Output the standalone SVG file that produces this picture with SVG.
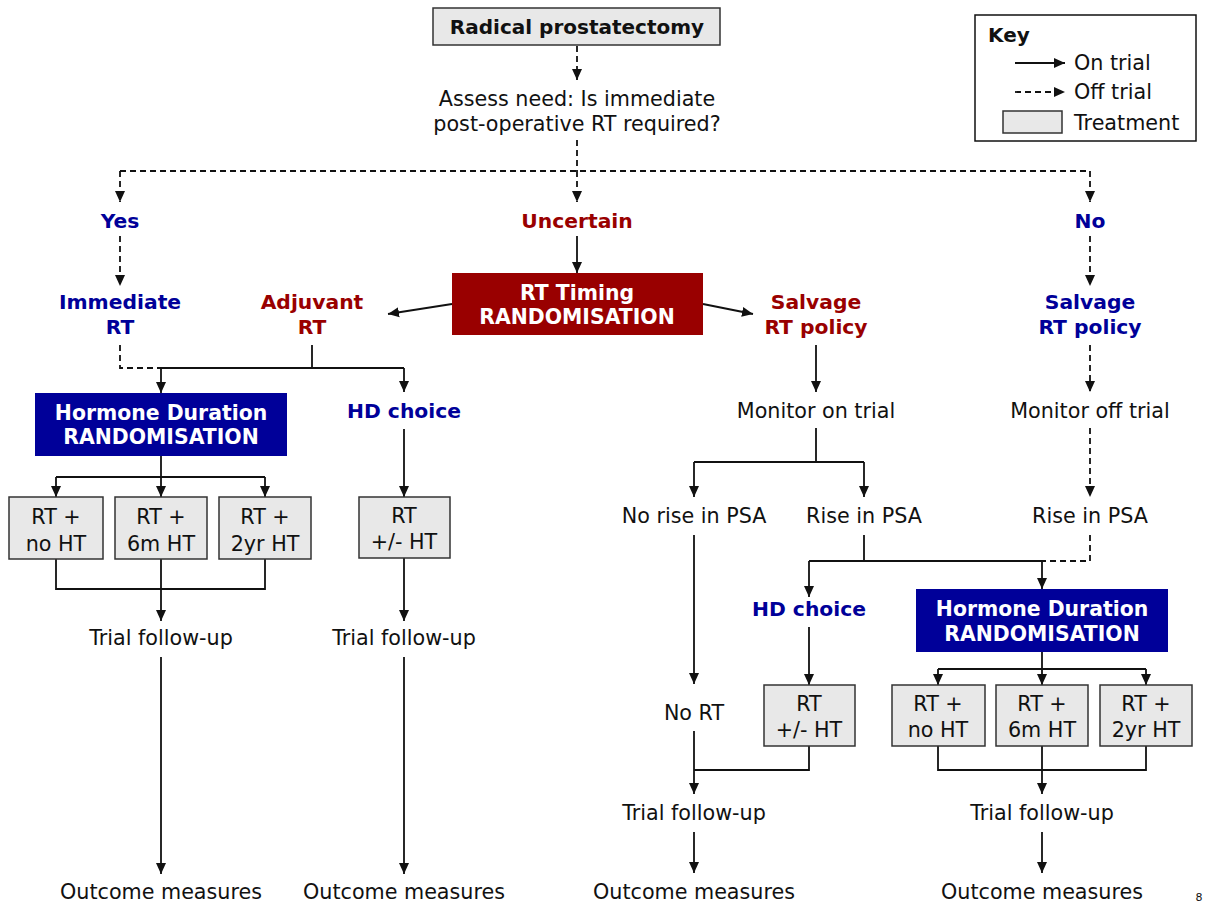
<svg xmlns="http://www.w3.org/2000/svg" width="1206" height="904" viewBox="0 0 1206 904">
<style>
text{font-family:"DejaVu Sans","Verdana",sans-serif;font-size:20.7px;fill:#111;text-anchor:middle;dominant-baseline:central}
.b{font-weight:bold;font-size:20px}
.blue{fill:#000099;font-weight:bold;font-size:20.3px}
.red{fill:#990000;font-weight:bold;font-size:20.3px}
.w{fill:#fff;font-weight:bold;font-size:20.4px}
.tr{fill:#e8e8e8;stroke:#333;stroke-width:1.5}
.rb{fill:#000099}
.rr{fill:#990000}
.c{fill:none;stroke:#111;stroke-width:1.8}
.d{fill:none;stroke:#111;stroke-width:1.8;stroke-dasharray:6,4}
.a{marker-end:url(#ah)}
</style>
<defs>
<marker id="ah" markerUnits="userSpaceOnUse" markerWidth="12" markerHeight="12" refX="11" refY="6" orient="auto">
<path d="M0,1 L11,6 L0,11 z" fill="#111"/>
</marker>
</defs>
<rect width="1206" height="904" fill="#fff"/>

<g id="connectors">
<path class="d a" d="M577,46 V80"/>
<path class="d" d="M577,140 V171 M120,171 H1090"/>
<path class="d a" d="M120,171 V202"/>
<path class="d a" d="M577,171 V202"/>
<path class="d a" d="M1090,171 V202"/>
<path class="d a" d="M120,236 V286"/>
<path class="c a" d="M577,236 V273"/>
<path class="d a" d="M1090,236 V286"/>
<path class="c a" d="M452,304 L388,314"/>
<path class="c a" d="M703,304 L753,314"/>
<path class="d" d="M120,345 V368 H161"/>
<path class="c" d="M312,345 V368 M161,368 H404"/>
<path class="c a" d="M161,368 V393"/>
<path class="c a" d="M404,368 V392"/>
<path class="c" d="M161,456 V477 M56,477 H265"/>
<path class="c a" d="M56,477 V497"/>
<path class="c a" d="M161,477 V497"/>
<path class="c a" d="M265,477 V497"/>
<path class="c a" d="M404,429 V497"/>
<path class="c" d="M56,559 V589 H265 V559 M161,559 V589"/>
<path class="c a" d="M161,589 V621"/>
<path class="c a" d="M404,558 V621"/>
<path class="c a" d="M161,657 V874"/>
<path class="c a" d="M404,657 V874"/>
<path class="c a" d="M816,345 V392"/>
<path class="d a" d="M1090,345 V392"/>
<path class="c" d="M816,428 V462 M694,462 H864"/>
<path class="c a" d="M694,462 V497"/>
<path class="c a" d="M864,462 V497"/>
<path class="d a" d="M1090,428 V497"/>
<path class="c" d="M864,535 V561 M809,561 H1042"/>
<path class="d" d="M1090,535 V561 H1042"/>
<path class="c a" d="M809,561 V597"/>
<path class="c a" d="M1042,561 V589"/>
<path class="c a" d="M809,627 V685"/>
<path class="c" d="M1042,652 V669 M938,669 H1146"/>
<path class="c a" d="M938,669 V685"/>
<path class="c a" d="M1042,669 V685"/>
<path class="c a" d="M1146,669 V685"/>
<path class="c a" d="M694,535 V684"/>
<path class="c a" d="M694,731 V794"/>
<path class="c" d="M809,746 V770 H694"/>
<path class="c" d="M938,746 V770 H1146 V746 M1042,746 V770"/>
<path class="c a" d="M1042,770 V794"/>
<path class="c a" d="M694,832 V873"/>
<path class="c a" d="M1042,832 V873"/>
</g>

<g id="n-prostatectomy"><rect class="tr" x="433" y="8" width="287" height="37"/><text class="b" x="577" y="27">Radical prostatectomy</text></g>
<g id="n-assess"><text x="577" y="99">Assess need: Is immediate</text><text x="577" y="124">post-operative RT required?</text></g>
<g id="n-yes"><text class="blue" x="120" y="221">Yes</text></g>
<g id="n-uncertain"><text class="red" x="577" y="221">Uncertain</text></g>
<g id="n-no"><text class="blue" x="1090" y="221">No</text></g>
<g id="n-immediate"><text class="blue" x="120" y="302">Immediate</text><text class="blue" x="120" y="327">RT</text></g>
<g id="n-rttiming"><rect class="rr" x="452" y="273" width="251" height="62"/><text class="w" x="577" y="293">RT Timing</text><text class="w" x="577" y="317">RANDOMISATION</text></g>
<g id="n-adjuvant"><text class="red" x="312" y="302">Adjuvant</text><text class="red" x="312" y="327">RT</text></g>
<g id="n-salvage-red"><text class="red" x="816" y="302">Salvage</text><text class="red" x="816" y="327">RT policy</text></g>
<g id="n-salvage-blue"><text class="blue" x="1090" y="302">Salvage</text><text class="blue" x="1090" y="327">RT policy</text></g>
<g id="n-hd-left"><rect class="rb" x="35" y="393" width="252" height="63"/><text class="w" x="161" y="413">Hormone Duration</text><text class="w" x="161" y="437">RANDOMISATION</text></g>
<g id="n-hdchoice-left"><text class="blue" x="404" y="411">HD choice</text></g>
<g id="n-l-nohT"><rect class="tr" x="9" y="497" width="94" height="62"/><text x="56" y="517">RT +</text><text x="56" y="544">no HT</text></g>
<g id="n-l-6m"><rect class="tr" x="115" y="497" width="92" height="62"/><text x="161" y="517">RT +</text><text x="161" y="544">6m HT</text></g>
<g id="n-l-2yr"><rect class="tr" x="219" y="497" width="92" height="62"/><text x="265" y="517">RT +</text><text x="265" y="544">2yr HT</text></g>
<g id="n-l-pm"><rect class="tr" x="359" y="497" width="91" height="61"/><text x="404" y="516">RT</text><text x="404" y="542">+/- HT</text></g>
<g id="n-fu1"><text x="161" y="638">Trial follow-up</text></g>
<g id="n-fu2"><text x="404" y="638">Trial follow-up</text></g>
<g id="n-om1"><text x="161" y="892">Outcome measures</text></g>
<g id="n-om2"><text x="404" y="892">Outcome measures</text></g>
<g id="n-monitor-on"><text x="816" y="411">Monitor on trial</text></g>
<g id="n-monitor-off"><text x="1090" y="411">Monitor off trial</text></g>
<g id="n-norise"><text x="694" y="516">No rise in PSA</text></g>
<g id="n-rise1"><text x="864" y="516">Rise in PSA</text></g>
<g id="n-rise2"><text x="1090" y="516">Rise in PSA</text></g>
<g id="n-hdchoice-right"><text class="blue" x="809" y="609">HD choice</text></g>
<g id="n-hd-right"><rect class="rb" x="916" y="589" width="252" height="63"/><text class="w" x="1042" y="609">Hormone Duration</text><text class="w" x="1042" y="634">RANDOMISATION</text></g>
<g id="n-nort"><text x="694" y="713">No RT</text></g>
<g id="n-r-pm"><rect class="tr" x="764" y="685" width="91" height="61"/><text x="809" y="704">RT</text><text x="809" y="730">+/- HT</text></g>
<g id="n-r-noHT"><rect class="tr" x="892" y="685" width="93" height="61"/><text x="938" y="704">RT +</text><text x="938" y="730">no HT</text></g>
<g id="n-r-6m"><rect class="tr" x="996" y="685" width="92" height="61"/><text x="1042" y="704">RT +</text><text x="1042" y="730">6m HT</text></g>
<g id="n-r-2yr"><rect class="tr" x="1100" y="685" width="92" height="61"/><text x="1146" y="704">RT +</text><text x="1146" y="730">2yr HT</text></g>
<g id="n-fu3"><text x="694" y="813">Trial follow-up</text></g>
<g id="n-fu4"><text x="1042" y="813">Trial follow-up</text></g>
<g id="n-om3"><text x="694" y="892">Outcome measures</text></g>
<g id="n-om4"><text x="1042" y="892">Outcome measures</text></g>

<g id="key">
<rect x="975" y="15" width="221" height="126" fill="#fff" stroke="#111" stroke-width="1.5"/>
<text class="b" x="988" y="35" style="text-anchor:start">Key</text>
<path class="c a" d="M1015,63 H1065"/>
<text x="1074" y="63" style="text-anchor:start">On trial</text>
<path class="d a" d="M1015,92 H1065"/>
<text x="1074" y="92" style="text-anchor:start">Off trial</text>
<rect class="tr" x="1003" y="111" width="59" height="22"/>
<text x="1074" y="123" style="text-anchor:start">Treatment</text>
</g>
<text x="1199" y="897" style="font-size:11px">8</text>
</svg>
